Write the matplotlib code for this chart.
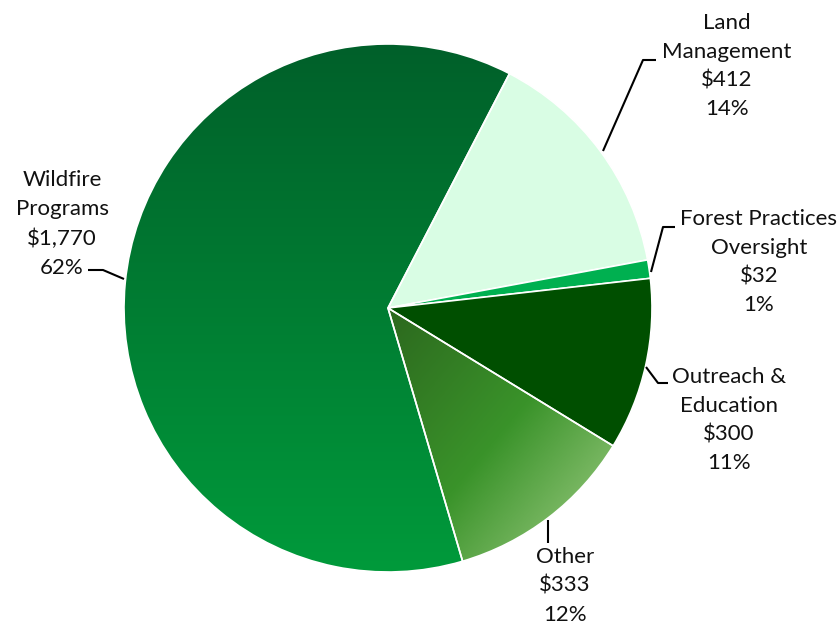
import numpy as np
import matplotlib
matplotlib.use("Agg")
import matplotlib.pyplot as plt
from matplotlib.colors import LinearSegmentedColormap

# data
names = ["Land\nManagement", "Forest Practices\nOversight", "Outreach &\nEducation",
         "Other", "Wildfire\nPrograms"]
values = [412, 32, 300, 333, 1770]
colors = ["#d9fde4", "#00b050", "#004f00", "#3c952c", "#008a35"]

W, H = 840, 629
fig = plt.figure(figsize=(W / 100, H / 100), dpi=100)
ax = fig.add_axes([0, 0, 1, 1])

cx, cy, r = 388, H - 308, 264
wedges, _ = ax.pie(values, colors=colors, startangle=62.6, counterclock=False,
                   center=(cx, cy), radius=r, frame=True,
                   wedgeprops=dict(edgecolor="white", linewidth=1.2))


def gradient_fill(wedge, stops, angle_deg, extent):
    # linear gradient clipped to the wedge
    x0, x1, y0, y1 = extent
    xs = np.linspace(x0, x1, 200)
    ys = np.linspace(y0, y1, 200)
    X, Y = np.meshgrid(xs, ys)
    a = np.deg2rad(angle_deg)
    t = (X - x0) * np.cos(a) + (Y - y0) * np.sin(a)
    t = (t - t.min()) / (t.max() - t.min())
    cmap = LinearSegmentedColormap.from_list("g", stops)
    im = ax.imshow(t, cmap=cmap, extent=extent, origin="lower",
                   interpolation="bilinear", zorder=wedge.get_zorder() - 0.01)
    im.set_clip_path(wedge)
    wedge.set_facecolor("none")


# Wildfire: vertical gradient, dark at top
gradient_fill(wedges[4], ["#009a3b", "#00602a"], 90, (cx - r, cx + r, cy - r, cy + r))
# Other: diagonal gradient from the centre out to the lower right
gradient_fill(wedges[3], [(0, "#2c681e"), (0.45, "#3a932a"), (0.8, "#8cc273"),
                          (1, "#98c980")], -40, (cx, cx + r, cy - r, cy))
ax.set_xlim(0, W)
ax.set_ylim(0, H)
ax.set_aspect("equal")
ax.axis("off")

total = sum(values)
labels = [f"{n}\n${v:,}\n{round(100 * v / total)}%" for n, v in zip(names, values)]

# label centres and leader lines (pixel coords, y down)
text_pos = [(727, 66), (759, 262), (729, 420), (565, 586), (62, 224)]
leaders = [
    [(603, 151), (643, 60), (656, 60)],
    [(651, 272), (663, 227), (675, 227)],
    [(646, 367), (658, 383), (668, 383)],
    [(548, 520), (548, 543)],
    [(124, 279), (103, 270), (88, 270)],
]

for lab, (tx, ty), pts in zip(labels, text_pos, leaders):
    ax.text(tx, H - ty, lab, ha="center", va="center", fontsize=16,
            family="Lato", color="#111111", linespacing=1.55)
    px = [p[0] for p in pts]
    py = [H - p[1] for p in pts]
    ax.plot(px, py, color="black", lw=1.5, solid_capstyle="butt")

fig.savefig("out.png", dpi=100)
